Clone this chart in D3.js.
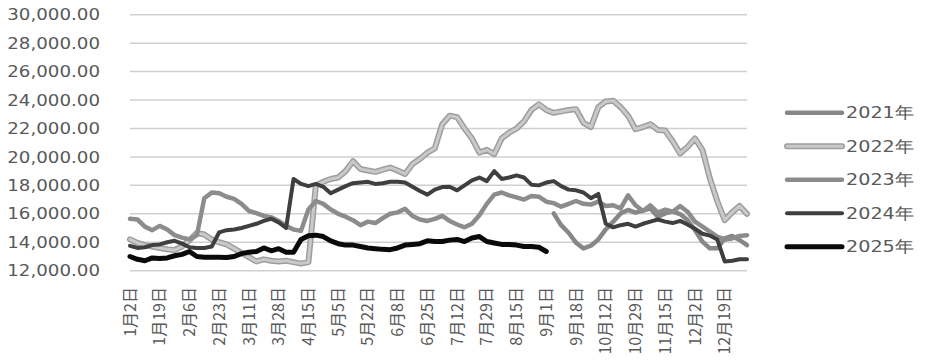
<!DOCTYPE html>
<html>
<head>
<meta charset="utf-8">
<script src="https://cdn.jsdelivr.net/npm/d3@7"></script>
<style>
body { margin: 0; background: #fff; }
</style>
</head>
<body>
<script>
// one value every 3rd trading day, 250 trading days on the axis
var step = 3;
var nDays = 250;

var tickLabels = ["1月2日", "1月19日", "2月6日", "2月23日", "3月11日", "3月28日", "4月15日",
    "5月5日", "5月22日", "6月8日", "6月25日", "7月12日", "7月29日", "8月15日", "9月1日",
    "9月18日", "10月12日", "10月29日", "11月15日", "12月2日", "12月19日"];
var yTicks = [12000, 14000, 16000, 18000, 20000, 22000, 24000, 26000, 28000, 30000];
var years = ["2021年", "2022年", "2023年", "2024年", "2025年"];

var v2021 = [null, null, null, null, null, null, null, null, null, null,
    null, null, null, null, null, null, null, null, null, null,
    null, null, null, null, null, null, null, null, null, null,
    null, null, null, null, null, null, null, null, null, null,
    null, null, null, null, null, null, null, null, null, null,
    null, null, null, null, null, null, null,
    16030, 15200, 14670, 13970, 13570, 13760, 14200, 14900, 15450, 16030,
    16270, 16080, 16220, 16380, 15800, 16030, 16150, 15980, 15560, 14860,
    14040, 13570, 13570, 14270, 14440, 14160, 13800];

var v2022 = [14200, 13950, 13800, 13700, 13600, 13500, 13450, 13700, 14150, 14650,
    14550, 14200, 14000, 13850, 13550, 13250, 12950, 12650, 12800, 12700,
    12650, 12700, 12600, 12500, 12600, 18000, 18250, 18450, 18550, 19000,
    19700, 19150, 19050, 18950, 19100, 19250, 19050, 18800, 19500, 19850,
    20300, 20600, 22300, 22900, 22800, 22000, 21300, 20300, 20500, 20200,
    21300, 21700, 22000, 22500, 23300, 23700, 23300, 23100, 23200, 23300,
    23350, 22400, 22100, 23500, 23900, 23950, 23500, 22900, 21950, 22100,
    22300, 21900, 21850, 21100, 20250, 20700, 21300, 20500, 18500, 16900,
    15550, 16100, 16550, 16000];

var v2023 = [15650, 15600, 15100, 14850, 15150, 14900, 14500, 14330, 14200, 14500,
    17100, 17500, 17450, 17200, 17050, 16700, 16200, 16050, 15850, 15750,
    15500, 15150, 14900, 14800, 16300, 16900, 16700, 16300, 16000, 15800,
    15550, 15200, 15450, 15350, 15700, 16000, 16100, 16350, 15850, 15600,
    15500, 15650, 15850, 15500, 15250, 15050, 15300, 15900, 16700, 17350,
    17500, 17300, 17150, 17000, 17250, 17200, 16850, 16750, 16500, 16700,
    16900, 16700, 16650, 16850, 16550, 16600, 16380, 17300, 16600, 16200,
    16600, 16080, 16300, 16150, 16550, 16150, 15450, 15100, 14750, 14400,
    14200, 14270, 14440, 14500];

var v2024 = [13750, 13600, 13650, 13800, 13850, 14000, 14100, 13900, 13650, 13600,
    13600, 13700, 14700, 14850, 14900, 15000, 15150, 15300, 15500, 15650,
    15400, 15000, 18450, 18100, 17950, 18100, 17900, 17450, 17700, 17950,
    18150, 18200, 18250, 18100, 18150, 18250, 18250, 18200, 17900, 17600,
    17350, 17700, 17880, 17900, 17650, 18000, 18350, 18550, 18300, 19000,
    18450, 18550, 18700, 18550, 18050, 18000, 18200, 18300, 17950, 17700,
    17650, 17500, 17100, 17400, 15300, 15050, 15200, 15300, 15100, 15300,
    15450, 15600, 15450, 15350, 15500, 15250, 14950, 14600, 14470, 14200,
    12650, 12700, 12800, 12800];

var v2025 = [13000, 12800, 12700, 12900, 12850, 12900, 13050, 13150, 13350, 13000,
    12950, 12950, 12950, 12930, 13000, 13200, 13300, 13350, 13600, 13400,
    13550, 13300, 13300, 14200, 14450, 14500, 14400, 14100, 13900, 13800,
    13800, 13700, 13600, 13550, 13500, 13480, 13600, 13800, 13850, 13900,
    14100, 14050, 14050, 14150, 14200, 14050, 14300, 14400, 14050, 13950,
    13850, 13850, 13800, 13700, 13700, 13650, 13350];

var seriesValues = [v2021, v2022, v2023, v2024, v2025];
var colors = ["#878787", "#c9c9c9", "#8c8c8c", "#3f3f3f", "#0a0a0a"];
var widths = [4.5, 3, 4.5, 4, 5];

var width = 928;
var height = 364;
var svg = d3.select("body")
    .append("svg")
    .attr("width", width)
    .attr("height", height);

var x = d3.scaleLinear().domain([0, nDays - 1]).range([130, 747]);
var y = d3.scaleLinear().domain([12000, 30000]).range([270.7, 14.7]);

// gridlines
svg.append("g")
    .selectAll("line")
    .data(yTicks)
    .join("line")
    .attr("x1", x(0))
    .attr("x2", x(nDays - 1))
    .attr("y1", d => y(d))
    .attr("y2", d => y(d))
    .attr("stroke", "#d0d0d0")
    .attr("stroke-width", 1.5);

// y labels
svg.append("g")
    .selectAll("text")
    .data(yTicks)
    .join("text")
    .attr("transform", d => "translate(100," + y(d) + ") scale(1.14,1)")
    .attr("text-anchor", "end")
    .attr("dy", "0.35em")
    .attr("font-family", "DejaVu Sans")
    .attr("font-size", 16)
    .attr("fill", "#595959")
    .text(d => d3.format(",.2f")(d));

// x labels
svg.append("g")
    .selectAll("text")
    .data(tickLabels)
    .join("text")
    .attr("transform", (d, i) => "translate(" + x(i * 12) + ",287) rotate(-90)")
    .attr("text-anchor", "end")
    .attr("dy", "0.35em")
    .attr("font-family", "Noto Sans CJK SC")
    .attr("font-size", 16)
    .attr("fill", "#595959")
    .text(d => d);

var line = d3.line()
    .defined(d => d != null)
    .x((d, i) => x(i * step))
    .y(d => y(d));

var lines = svg.append("g")
    .attr("fill", "none")
    .attr("stroke-linejoin", "round")
    .attr("stroke-linecap", "round");

seriesValues.forEach((vals, k) => {
    if (k == 1) {
        // 2022 has a darker rim round a light core
        lines.append("path")
            .attr("d", line(vals))
            .attr("stroke", "#9d9d9d")
            .attr("stroke-width", 6);
    }
    lines.append("path")
        .attr("d", line(vals))
        .attr("stroke", colors[k])
        .attr("stroke-width", widths[k]);
});

// legend
var legend = svg.append("g")
    .selectAll("g")
    .data(years)
    .join("g")
    .attr("transform", (d, i) => "translate(787," + (112.7 + i * 33.5) + ")");

legend.filter((d, i) => i == 1)
    .append("line")
    .attr("x2", 55)
    .attr("stroke", "#9d9d9d")
    .attr("stroke-width", 6)
    .attr("stroke-linecap", "round");

legend.append("line")
    .attr("x2", 55)
    .attr("stroke", (d, i) => colors[i])
    .attr("stroke-width", (d, i) => widths[i])
    .attr("stroke-linecap", "round");

legend.append("text")
    .attr("transform", "translate(59,0) scale(1.2,1)")
    .attr("dy", "0.35em")
    .attr("font-family", "DejaVu Sans")
    .attr("font-size", 16)
    .attr("fill", "#595959")
    .text(d => d);
</script>
</body>
</html>
